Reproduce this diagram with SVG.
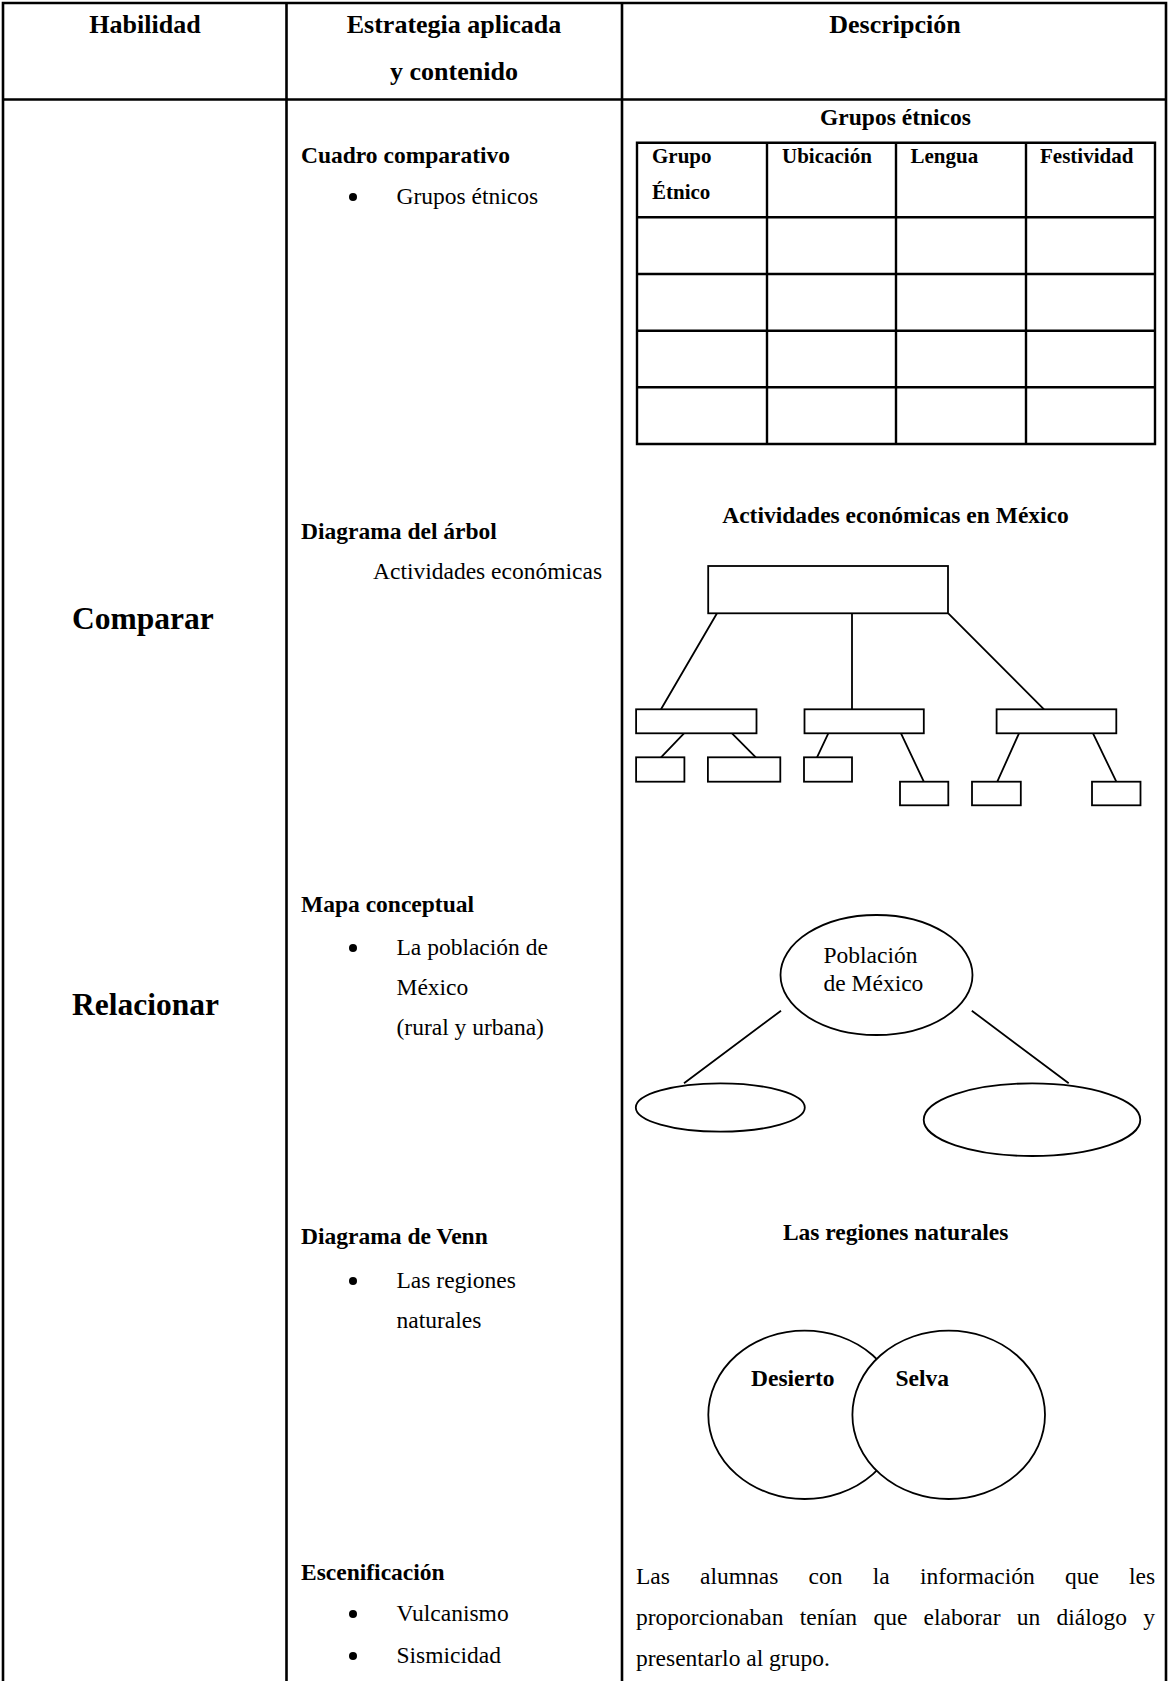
<svg xmlns="http://www.w3.org/2000/svg" width="1169" height="1681" viewBox="0 0 1169 1681">
<style>
text{font-family:"Liberation Serif","Times New Roman",serif;fill:#000}
.h{font-size:26px;font-weight:bold;text-anchor:middle}
.big{font-size:31.5px;font-weight:bold}
.b{font-size:23.5px;font-weight:bold}
.r{font-size:23.5px}
.th{font-size:21px;font-weight:bold}
.c{text-anchor:middle}
.grid{stroke:#000;stroke-width:2.6;fill:none}
.tbl{stroke:#000;stroke-width:2.4;fill:none}
.box{stroke:#000;stroke-width:1.8;fill:#fff}
.ln{stroke:#000;stroke-width:1.8;fill:none}
</style>
<rect width="1169" height="1681" fill="#fff"/>
<g id="grid">
<path class="grid" d="M3,1681 V3 H1166 V1681 M286.5,3 V1681 M622,3 V1681 M3,99.5 H1166"/>
</g>
<g id="header">
<text class="h" x="145" y="33">Habilidad</text>
<text class="h" x="454" y="33">Estrategia aplicada</text>
<text class="h" x="454" y="80">y contenido</text>
<text class="h" x="895" y="33">Descripción</text>
</g>
<g id="skills">
<text class="big" x="72" y="629">Comparar</text>
<text class="big" x="72" y="1015">Relacionar</text>
</g>
<g id="strategies">
<text class="b" x="301" y="163">Cuadro comparativo</text>
<circle cx="353" cy="197" r="4"/>
<text class="r" x="396.5" y="204">Grupos étnicos</text>
<text class="b" x="301" y="539">Diagrama del árbol</text>
<text class="r" x="373" y="579">Actividades económicas</text>
<text class="b" x="301" y="912">Mapa conceptual</text>
<circle cx="353" cy="948" r="4"/>
<text class="r" x="396.5" y="955">La población de</text>
<text class="r" x="396.5" y="995">México</text>
<text class="r" x="396.5" y="1035">(rural y urbana)</text>
<text class="b" x="301" y="1244">Diagrama de Venn</text>
<circle cx="353" cy="1281" r="4"/>
<text class="r" x="396.5" y="1288">Las regiones</text>
<text class="r" x="396.5" y="1328">naturales</text>
<text class="b" x="301" y="1580">Escenificación</text>
<circle cx="353" cy="1614" r="4"/>
<text class="r" x="396.5" y="1621">Vulcanismo</text>
<circle cx="353" cy="1656" r="4"/>
<text class="r" x="396.5" y="1663">Sismicidad</text>
</g>
<g id="cuadro">
<text class="b c" x="895.5" y="125">Grupos étnicos</text>
<path class="tbl" d="M637,142.7 H1155 V444 H637 Z M767,142.7 V444 M896,142.7 V444 M1026,142.7 V444 M637,217.3 H1155 M637,274 H1155 M637,330.7 H1155 M637,387.3 H1155"/>
<text class="th" x="652" y="163">Grupo</text>
<text class="th" x="652" y="199">Étnico</text>
<text class="th" x="782" y="163">Ubicación</text>
<text class="th" x="910.5" y="163">Lengua</text>
<text class="th" x="1040" y="163">Festividad</text>
</g>
<g id="arbol-title">
<text class="b c" x="895.5" y="523">Actividades económicas en México</text>
</g>
<g id="connectors">
<path class="ln" d="M717,613.3 L661,709.3 M852,613.3 V709.3 M948.3,613.3 L1044,709.3"/>
<path class="ln" d="M684,733.3 L661,757.3 M732,733.3 L755.8,757.3 M828.3,733.3 L817,757.3 M901,733.3 L923.8,781.7 M1019,733.3 L997.3,781.7 M1093,733.3 L1116.3,781.7"/>
<path class="ln" d="M781,1010.7 L684,1083.3 M971.8,1010.7 L1068.7,1083.3"/>
</g>
<g id="tree-root"><rect class="box" x="708.2" y="566" width="239.8" height="47.3"/></g>
<g id="tree-l2a"><rect class="box" x="636.1" y="709.3" width="120.4" height="24"/></g>
<g id="tree-l2b"><rect class="box" x="804.5" y="709.3" width="119.3" height="24"/></g>
<g id="tree-l2c"><rect class="box" x="996.6" y="709.3" width="119.7" height="24"/></g>
<g id="tree-l3a"><rect class="box" x="636.1" y="757.3" width="48.3" height="24.4"/></g>
<g id="tree-l3b"><rect class="box" x="707.9" y="757.3" width="72.4" height="24.4"/></g>
<g id="tree-l3c"><rect class="box" x="804" y="757.3" width="48" height="24.4"/></g>
<g id="tree-l3d"><rect class="box" x="900" y="781.7" width="48.3" height="23.6"/></g>
<g id="tree-l3e"><rect class="box" x="972" y="781.7" width="48.8" height="23.6"/></g>
<g id="tree-l3f"><rect class="box" x="1092" y="781.7" width="48.5" height="23.6"/></g>
<g id="mapa-root">
<ellipse class="box" cx="876.5" cy="975" rx="96" ry="60"/>
<text class="r" x="823.5" y="963">Población</text>
<text class="r" x="823.5" y="991">de México</text>
</g>
<g id="mapa-left"><ellipse class="box" cx="720.3" cy="1107.5" rx="84.5" ry="24.2"/></g>
<g id="mapa-right"><ellipse class="box" cx="1032" cy="1119.7" rx="108.3" ry="36.3"/></g>
<g id="venn">
<text class="b c" x="895.6" y="1240">Las regiones naturales</text>
<ellipse class="box" cx="804.6" cy="1414.8" rx="96.3" ry="84.2"/>
<ellipse class="box" cx="948.7" cy="1414.8" rx="96.3" ry="84.2"/>
<text class="b" x="751" y="1386">Desierto</text>
<text class="b" x="895.5" y="1386">Selva</text>
</g>
<g id="escenificacion">
<text class="r" y="1583.5"><tspan x="636">Las</tspan><tspan x="700.1">alumnas</tspan><tspan x="808.6">con</tspan><tspan x="872.7">la</tspan><tspan x="919.9">información</tspan><tspan x="1065">que</tspan><tspan x="1129.1">les</tspan></text>
<text class="r" y="1624.5"><tspan x="636">proporcionaban</tspan><tspan x="799.7">tenían</tspan><tspan x="873.4">que</tspan><tspan x="923.5">elaborar</tspan><tspan x="1016.7">un</tspan><tspan x="1056.5">diálogo</tspan><tspan x="1143.2">y</tspan></text>
<text class="r" x="636" y="1666">presentarlo al grupo.</text>
</g>
</svg>
